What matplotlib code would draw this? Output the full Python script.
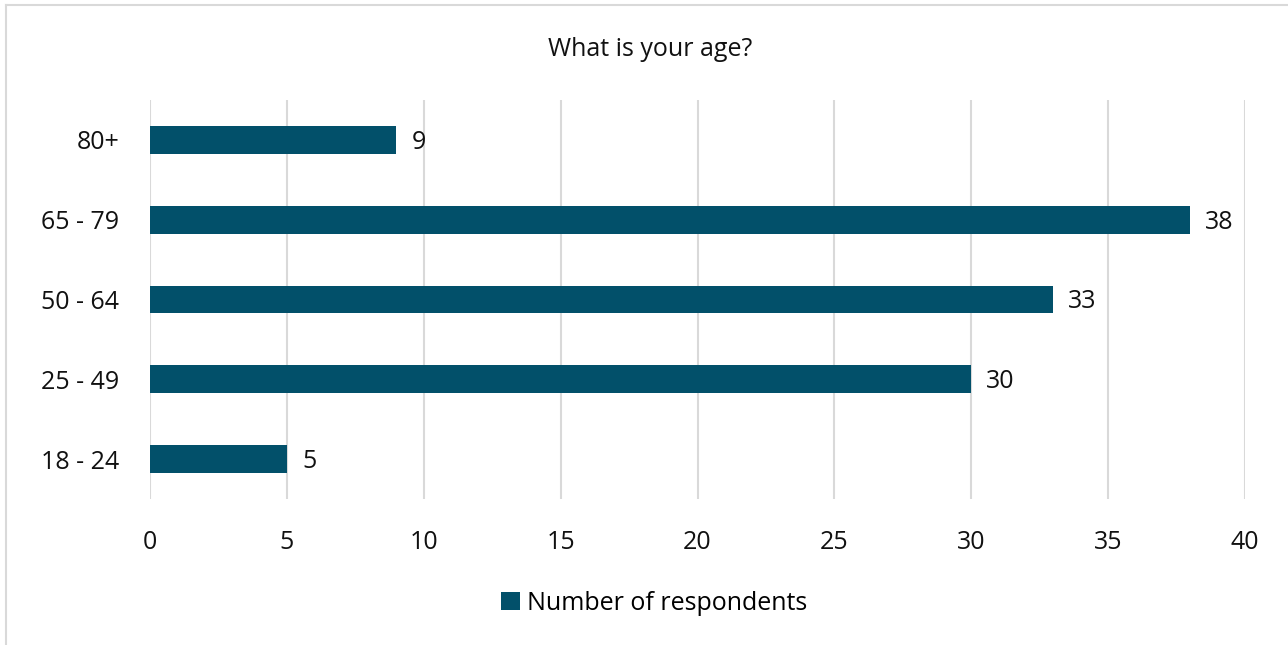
import matplotlib.pyplot as plt
from matplotlib.lines import Line2D

plt.rcParams['font.family'] = ['Open Sans', 'DejaVu Sans']

categories = ['18 - 24', '25 - 49', '50 - 64', '65 - 79', '80+']
respondents = [5, 30, 33, 38, 9]
xticks = [0, 5, 10, 15, 20, 25, 30, 35, 40]

bar_color = '#02506A'
grid_color = '#D9D9D9'
fs = 18

fig = plt.figure(figsize=(12.88, 6.45), dpi=100)
ax = fig.add_axes([150/1288, 1-499/645, 1095/1288, 399/645])

bars = ax.barh(categories, respondents, height=0.35, color=bar_color,
               label='Number of respondents', zorder=3)
for b, v in zip(bars, respondents):
    ax.text(v + 0.55, b.get_y() + b.get_height()/2 - 0.03, str(v), va='center', ha='left',
            fontsize=fs, color='#111111')

ax.set_xlim(0, 40)
ax.set_ylim(-0.5, 4.5)
ax.set_xticks(xticks)
ax.tick_params(axis='both', length=0, labelsize=fs, colors='#111111')
ax.tick_params(axis='x', pad=22)
ax.tick_params(axis='y', pad=22)
ax.xaxis.grid(True, color=grid_color, linewidth=1.5, zorder=0)
for s in ax.spines.values():
    s.set_visible(False)

fig.text(0.505, 0.924, 'What is your age?', ha='center', va='center', fontsize=fs, color='#111111')

fig.legend(handles=bars[:1], labels=['Number of respondents'], loc='center',
           bbox_to_anchor=(0.508, 0.065), frameon=False, fontsize=fs,
           handlelength=0.75, handleheight=0.75, handletextpad=0.3)

# outer border of the chart area
fig.add_artist(Line2D([6/1288, 1], [1-5/645, 1-5/645], color=grid_color, linewidth=1.5))
fig.add_artist(Line2D([6/1288, 6/1288], [0, 1-5/645], color=grid_color, linewidth=1.5))

fig.savefig('out.png', dpi=100)
